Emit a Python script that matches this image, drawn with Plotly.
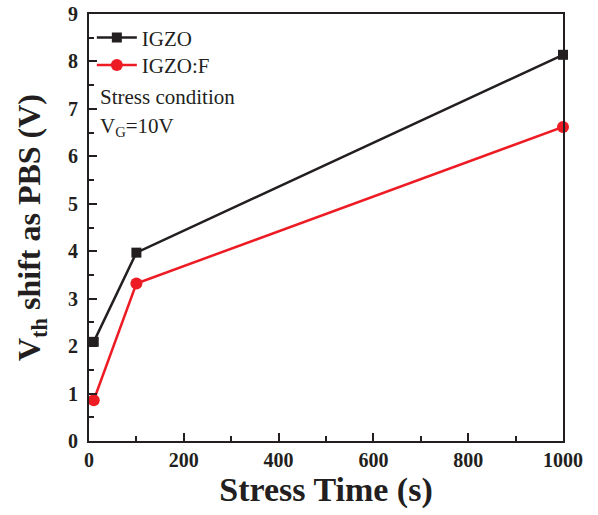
import plotly.graph_objects as go

stress_time = [10, 100, 1000]
igzo = [2.09, 3.97, 8.14]
igzo_f = [0.86, 3.32, 6.62]

x_ticks = [0, 200, 400, 600, 800, 1000]
y_ticks = [0, 1, 2, 3, 4, 5, 6, 7, 8, 9]

BLACK = "#231f20"
RED = "#ed1c24"
FONT = "Liberation Serif"

fig = go.Figure()
fig.add_trace(go.Scatter(x=stress_time, y=igzo, name="IGZO", mode="lines+markers",
                         line=dict(color=BLACK, width=2.5),
                         marker=dict(symbol="square", size=10, color=BLACK),
                         cliponaxis=False, legend="legend", showlegend=True))
fig.add_trace(go.Scatter(x=stress_time, y=igzo_f, name="IGZO:F", mode="lines+markers",
                         line=dict(color=RED, width=2.5),
                         marker=dict(symbol="circle", size=12, color=RED),
                         cliponaxis=False, legend="legend2", showlegend=True))

axis_common = dict(showline=True, linecolor=BLACK, linewidth=2, mirror=True,
                   ticks="inside", ticklen=8, tickwidth=1.5, tickcolor=BLACK,
                   showgrid=False, zeroline=False, automargin=False,
                   ticklabeloverflow="allow",
                   tickfont=dict(family=FONT, size=20, color=BLACK, weight="bold"))

fig.update_xaxes(range=[0, 1000], tickvals=x_ticks, ticktext=[str(v) for v in x_ticks],
                 minor=dict(ticks="inside", ticklen=5, tickwidth=1.5, tickcolor=BLACK, dtick=100),
                 title=dict(text="Stress Time (s)", standoff=6,
                            font=dict(family=FONT, size=34, color=BLACK, weight="bold")),
                 **axis_common)
fig.update_yaxes(range=[0, 9], tickvals=y_ticks, ticktext=[str(v) for v in y_ticks],
                 ticklabelstandoff=5,
                 minor=dict(ticks="inside", ticklen=5, tickwidth=1.5, tickcolor=BLACK, dtick=0.5),
                 title=dict(text="V<sub>th</sub> shift as PBS (V)", standoff=18,
                            font=dict(family=FONT, size=32, color=BLACK, weight="bold")),
                 **axis_common)

fig.add_annotation(x=0.02, y=0.805, xref="paper", yref="paper", xanchor="left", yanchor="middle",
                   text="Stress condition", showarrow=False,
                   font=dict(family=FONT, size=21, color=BLACK))
fig.add_annotation(x=0.02, y=0.735, xref="paper", yref="paper", xanchor="left", yanchor="middle",
                   text="V<sub>G</sub>=10V", showarrow=False,
                   font=dict(family=FONT, size=21, color=BLACK))

legend_style = dict(xanchor="left", yanchor="middle", bgcolor="rgba(0,0,0,0)",
                    font=dict(family=FONT, size=21, color=BLACK), itemwidth=40, visible=True)

fig.update_layout(
    width=598, height=515,
    margin=dict(l=89, r=35, t=14, b=74),
    paper_bgcolor="white", plot_bgcolor="white",
    showlegend=True,
    legend=dict(x=0.006, y=0.944, **legend_style),
    legend2=dict(x=0.006, y=0.880, **legend_style),
)

fig.write_html("out.html", config={"displayModeBar": False},
               post_script="document.body.style.margin='0';document.body.style.overflow='hidden';")
